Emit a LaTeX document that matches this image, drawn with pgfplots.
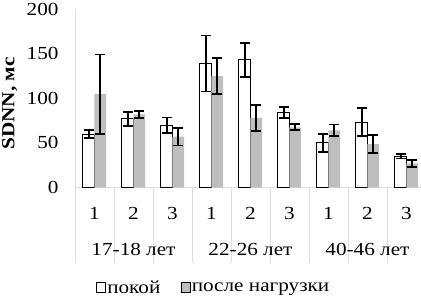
\documentclass[border=0pt]{standalone}
\usepackage{fontspec}
\setmainfont{Liberation Serif}[FakeStretch=1.15]
\usepackage{pgfplots}
\pgfplotsset{compat=1.18}
\definecolor{bargray}{RGB}{190,190,190}
\definecolor{sepgray}{RGB}{222,222,222}
\newcommand{\chartfont}{\fontsize{18.5}{21}\selectfont}
\begin{document}
\begin{tikzpicture}
\begin{axis}[
  at={(0,0)}, anchor=south west,
  scale only axis, width=346bp, height=178.5bp,
  xmin=-0.5, xmax=8.372, ymin=0, ymax=200,
  axis lines*=left,
  axis line style={sepgray, line width=0.6pt},
  ytick={0,50,100,150,200},
  xtick={0,...,8},
  xticklabels={1,2,3,1,2,3,1,2,3},
  major tick length=0pt,
  tick label style={font=\chartfont},
  /pgf/number format/assume math mode=true,
  xticklabel style={anchor=center, yshift=-25.5bp},
  yticklabel style={anchor=east, xshift=-13bp},
  extra x ticks={-0.5,0.5,...,7.5},
  extra x tick labels={},
  extra x tick style={tick align=outside, major tick length=75bp, tick style={sepgray, line width=0.6pt}},
  ylabel={\bfseries SDNN, мс},
  ylabel style={at={(axis description cs:-0.189,0.47)}, anchor=center, font=\chartfont},
  clip=false,
  ybar, bar width=11.6bp,
  legend columns=2,
  legend style={at={(axis description cs:0.40,-0.563)}, anchor=center, draw=none,
    font=\chartfont, nodes={inner sep=1.5pt},
    /tikz/every even column/.append style={column sep=19bp}},
  legend image code/.code={\draw[#1] (0bp,-4bp) rectangle (9bp,6bp);},
]
\addplot[fill=white, draw=black, line width=0.8pt, bar shift=-5.8bp,
  error bars/.cd, y dir=both, y explicit,
  error bar style={line width=1.8pt, black},
  error mark options={rotate=90, mark size=5bp, line width=1.8pt, black}] coordinates {
  (0,60) +- (0,4.5)
  (1,77) +- (0,8)
  (2,70) +- (0,8.5)
  (3,139) +- (0,31.4)
  (4,143) +- (0,19)
  (5,84) +- (0,6.5)
  (6,50) +- (0,10)
  (7,73.5) +- (0,15.5)
  (8,35) +- (0,2.5)
};
\addlegendentry{покой}
\addplot[fill=bargray, draw=none, bar shift=5.8bp,
  error bars/.cd, y dir=both, y explicit,
  error bar style={line width=1.8pt, black},
  error mark options={rotate=90, mark size=5bp, line width=1.8pt, black}] coordinates {
  (0,104.5) +- (0,44.5)
  (1,82) +- (0,4)
  (2,57) +- (0,10)
  (3,124.8) +- (0,20.2)
  (4,78) +- (0,14.5)
  (5,67.5) +- (0,3.5)
  (6,64) +- (0,6.5)
  (7,48.5) +- (0,10)
  (8,27) +- (0,4)
};
\addlegendentry{после нагрузки}
\node[font=\chartfont] at (axis cs:1,0) [yshift=-62bp] {17-18 лет};
\node[font=\chartfont] at (axis cs:4,0) [yshift=-62bp] {22-26 лет};
\node[font=\chartfont] at (axis cs:7,0) [yshift=-62bp] {40-46 лет};
\end{axis}
\pgfresetboundingbox
\path (-75bp,-112.5bp) rectangle (346bp,187.5bp);
\end{tikzpicture}
\end{document}
